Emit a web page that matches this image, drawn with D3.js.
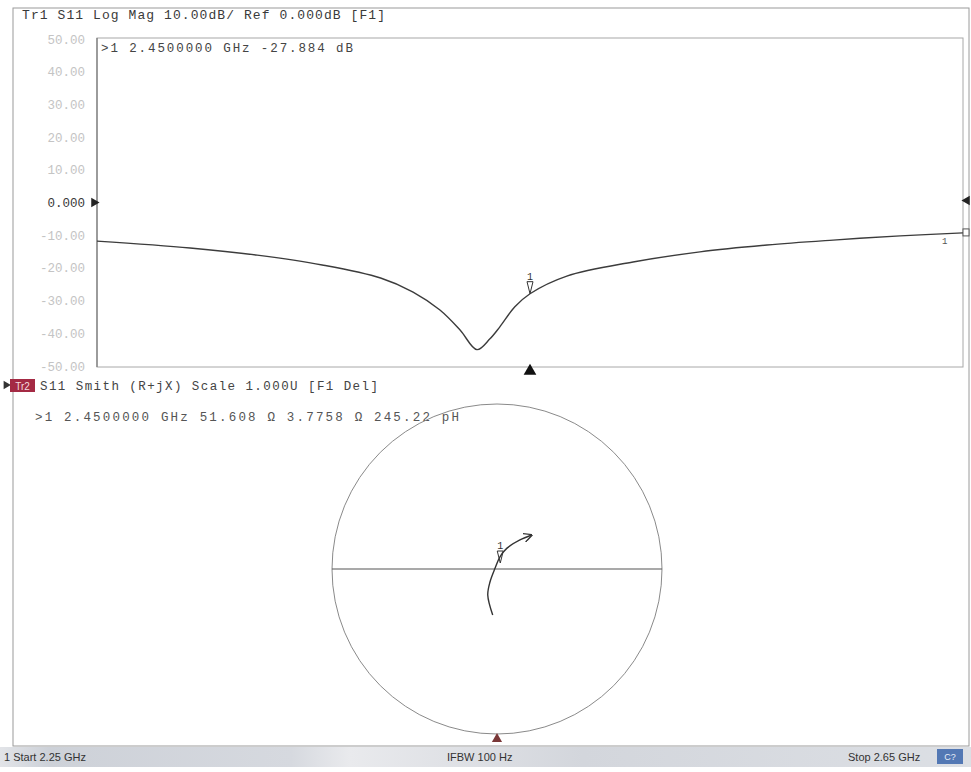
<!DOCTYPE html>
<html>
<head>
<meta charset="utf-8">
<script src="https://cdn.jsdelivr.net/npm/d3@7"></script>
<style>
  html, body { margin: 0; padding: 0; background: #fff; }
  svg { display: block; }
  .mono { font-family: "Liberation Mono", "DejaVu Sans Mono", monospace; }
</style>
</head>
<body>
<svg id="chart" width="971" height="772"></svg>
<script>
// ---------- data ----------
const freqGHz = [2.250, 2.293, 2.324, 2.354, 2.381, 2.396, 2.4084, 2.4177, 2.4255, 2.4315, 2.436, 2.443, 2.450, 2.467, 2.4976, 2.5285, 2.5595, 2.590, 2.621, 2.650];
const s11dB   = [-11.8, -13.9, -16.1, -19.1, -23.1, -27.4, -32.9, -39.0, -45.0, -41.7, -38.1, -31.9, -27.9, -22.5, -18.2, -15.1, -13.0, -11.5, -10.2, -9.3];
const yTickValues = [50, 40, 30, 20, 10, 0, -10, -20, -30, -40, -50];
const yTickLabels = ["50.00", "40.00", "30.00", "20.00", "10.00", "0.000", "-10.00", "-20.00", "-30.00", "-40.00", "-50.00"];
const smithRe = [-0.026, -0.056, -0.042, -0.012, 0.018, 0.059, 0.139, 0.210];
const smithIm = [-0.279, -0.158, -0.077, 0.004, 0.074, 0.125, 0.176, 0.206];
const markerFreq = 2.45, markerDB = -27.884;
const markerRe = 0.0197, markerIm = 0.0363;
const title1 = "Tr1 S11 Log Mag 10.00dB/ Ref 0.000dB [F1]";
const marker1Text = ">1  2.4500000 GHz -27.884 dB";
const title2 = "S11 Smith (R+jX) Scale 1.000U [F1 Del]";
const marker2Text = ">1  2.4500000 GHz  51.608 \u03A9  3.7758 \u03A9  245.22 pH";
const statusStart = "1 Start 2.25 GHz", statusIFBW = "IFBW 100 Hz", statusStop = "Stop 2.65 GHz";

// ---------- layout ----------
const svg = d3.select("#chart");
const plot = { left: 97, right: 963, top: 38, bottom: 367 };

// outer frame
svg.append("rect").attr("x", 13).attr("y", 8).attr("width", 956).attr("height", 738)
  .attr("fill", "none").attr("stroke", "#9a9a9a").attr("stroke-width", 1);

// ---------- upper panel: log mag ----------
const x = d3.scaleLinear().domain([2.25, 2.65]).range([plot.left, plot.right]);
const y = d3.scaleLinear().domain([-50, 50]).range([plot.bottom - 1, plot.top + 1]);

svg.append("text").attr("class", "mono").attr("x", 22).attr("y", 19)
  .attr("font-size", 13).attr("fill", "#3a3a3a").attr("textLength", 363)
  .text(title1);

svg.append("rect").attr("x", plot.left).attr("y", plot.top)
  .attr("width", plot.right - plot.left).attr("height", plot.bottom - plot.top)
  .attr("fill", "none").attr("stroke", "#a8a8a8").attr("stroke-width", 1);
svg.append("line").attr("x1", plot.left).attr("x2", plot.left).attr("y1", plot.top).attr("y2", plot.bottom)
  .attr("stroke", "#777").attr("stroke-width", 1.2);

const yAxis = d3.axisLeft(y).tickValues(yTickValues).tickSize(0).tickPadding(10)
  .tickFormat((d, i) => yTickLabels[i]);
const yg = svg.append("g").attr("transform", `translate(${plot.left - 2},0)`).call(yAxis);
yg.select(".domain").remove();
yg.selectAll("text").attr("class", "mono").attr("font-size", 12.5)
  .attr("fill", d => d === 0 ? "#3a3a3a" : "#c4c4c4");

// reference arrows at 0 dB
svg.append("path").attr("d", d3.symbol(d3.symbolTriangle, 40)())
  .attr("transform", `translate(${plot.left - 3},${y(0)}) rotate(90)`).attr("fill", "#222");
svg.append("path").attr("d", d3.symbol(d3.symbolTriangle, 40)())
  .attr("transform", `translate(${plot.right + 4},${y(0) - 2}) rotate(-90)`).attr("fill", "#222");

const data1 = freqGHz.map((f, i) => ({ f, v: s11dB[i] }));
svg.append("path").datum(data1)
  .attr("d", d3.line().x(d => x(d.f)).y(d => y(d.v)).curve(d3.curveCatmullRom.alpha(0.5)))
  .attr("fill", "none").attr("stroke", "#3c3c3c").attr("stroke-width", 1.4);

svg.append("text").attr("class", "mono").attr("x", plot.left + 4).attr("y", plot.top + 14)
  .attr("font-size", 12.5).attr("fill", "#444").attr("textLength", 252)
  .text(marker1Text);

// marker 1 on trace
const mx = x(markerFreq), my = y(markerDB);
svg.append("path").attr("d", `M${mx - 3},${my - 12} L${mx + 3},${my - 12} L${mx},${my} Z`)
  .attr("fill", "none").attr("stroke", "#333").attr("stroke-width", 1);
svg.append("text").attr("class", "mono").attr("x", mx).attr("y", my - 14)
  .attr("text-anchor", "middle").attr("font-size", 10).attr("fill", "#333").text("1");
svg.append("path").attr("d", d3.symbol(d3.symbolTriangle, 70)())
  .attr("transform", `translate(${mx},${plot.bottom + 4})`).attr("fill", "#111");

// end-of-trace indicators
const ex = x(2.65), ey = y(s11dB[s11dB.length - 1]);
svg.append("rect").attr("x", ex).attr("y", ey - 4).attr("width", 6).attr("height", 7)
  .attr("fill", "#fff").attr("stroke", "#555").attr("stroke-width", 1);
svg.append("text").attr("class", "mono").attr("x", x(2.6415)).attr("y", ey + 11)
  .attr("text-anchor", "middle").attr("font-size", 9).attr("fill", "#555").text("1");

// ---------- lower panel: Smith chart ----------
svg.append("path").attr("d", d3.symbol(d3.symbolTriangle, 30)())
  .attr("transform", `translate(6,385) rotate(90)`).attr("fill", "#333");
svg.append("rect").attr("x", 10).attr("y", 379).attr("width", 25).attr("height", 13).attr("fill", "#a42a44");
svg.append("text").attr("x", 22.5).attr("y", 389.5).attr("text-anchor", "middle")
  .attr("font-family", "Liberation Sans, Arial, sans-serif").attr("font-size", 10).attr("fill", "#f4d9de").text("Tr2");
svg.append("text").attr("class", "mono").attr("x", 40).attr("y", 390)
  .attr("font-size", 12.5).attr("fill", "#444").attr("textLength", 338).text(title2);
svg.append("text").attr("class", "mono").attr("x", 35).attr("y", 421)
  .attr("font-size", 12.5).attr("fill", "#555").attr("textLength", 424).text(marker2Text);

const sx = d3.scaleLinear().domain([-1, 1]).range([332, 662]);
const sy = d3.scaleLinear().domain([-1, 1]).range([734, 404]);
const cx = sx(0), cy = sy(0), r = sx(1) - sx(0);

svg.append("circle").attr("cx", cx).attr("cy", cy).attr("r", r)
  .attr("fill", "none").attr("stroke", "#8a8a8a").attr("stroke-width", 1);
svg.append("line").attr("x1", sx(-1)).attr("x2", sx(1)).attr("y1", cy).attr("y2", cy)
  .attr("stroke", "#555").attr("stroke-width", 1.2);

svg.append("defs").append("marker").attr("id", "arr").attr("viewBox", "0 0 10 10")
  .attr("refX", 9).attr("refY", 5).attr("markerWidth", 9).attr("markerHeight", 9)
  .attr("orient", "auto").attr("markerUnits", "userSpaceOnUse")
  .append("path").attr("d", "M0,0 L10,5 L0,10").attr("fill", "none").attr("stroke", "#333").attr("stroke-width", 1.5);

const data2 = smithRe.map((re, i) => ({ re, im: smithIm[i] }));
svg.append("path").datum(data2)
  .attr("d", d3.line().x(d => sx(d.re)).y(d => sy(d.im)).curve(d3.curveCatmullRom))
  .attr("fill", "none").attr("stroke", "#333").attr("stroke-width", 1.4)
  .attr("marker-end", "url(#arr)");

const smx = sx(markerRe), smy = sy(markerIm);
svg.append("path").attr("d", `M${smx - 3},${smy - 12} L${smx + 3},${smy - 12} L${smx},${smy} Z`)
  .attr("fill", "none").attr("stroke", "#333").attr("stroke-width", 1);
svg.append("text").attr("class", "mono").attr("x", smx).attr("y", smy - 14)
  .attr("text-anchor", "middle").attr("font-size", 10).attr("fill", "#333").text("1");
svg.append("path").attr("d", d3.symbol(d3.symbolTriangle, 45)())
  .attr("transform", `translate(${cx},${sy(-1) + 5})`).attr("fill", "#7a3838");

// ---------- status bar ----------
const grad = svg.select("defs").append("linearGradient").attr("id", "sb").attr("x1", 0).attr("x2", 1).attr("y1", 0).attr("y2", 0);
[[0, "#e2e4e8"], [0.05, "#cdd1d8"], [0.3, "#d6d9df"], [0.36, "#e9eaed"], [0.6, "#d3d6dc"], [1, "#dcdfe4"]]
  .forEach(([o, c]) => grad.append("stop").attr("offset", o).attr("stop-color", c));
svg.append("rect").attr("x", 0).attr("y", 747).attr("width", 971).attr("height", 20).attr("fill", "url(#sb)");
const sbFont = "Liberation Sans, Arial, sans-serif";
svg.append("text").attr("x", 4).attr("y", 761).attr("font-family", sbFont).attr("font-size", 11).attr("fill", "#333").text(statusStart);
svg.append("text").attr("x", 447).attr("y", 761).attr("font-family", sbFont).attr("font-size", 11).attr("fill", "#333").text(statusIFBW);
svg.append("text").attr("x", 848).attr("y", 761).attr("font-family", sbFont).attr("font-size", 11).attr("fill", "#333").text(statusStop);
svg.append("rect").attr("x", 937).attr("y", 749).attr("width", 26).attr("height", 15).attr("fill", "#5378b4");
svg.append("text").attr("x", 950).attr("y", 760).attr("text-anchor", "middle").attr("font-family", sbFont)
  .attr("font-size", 9).attr("fill", "#e8eef8").text("C?");
</script>
</body>
</html>
